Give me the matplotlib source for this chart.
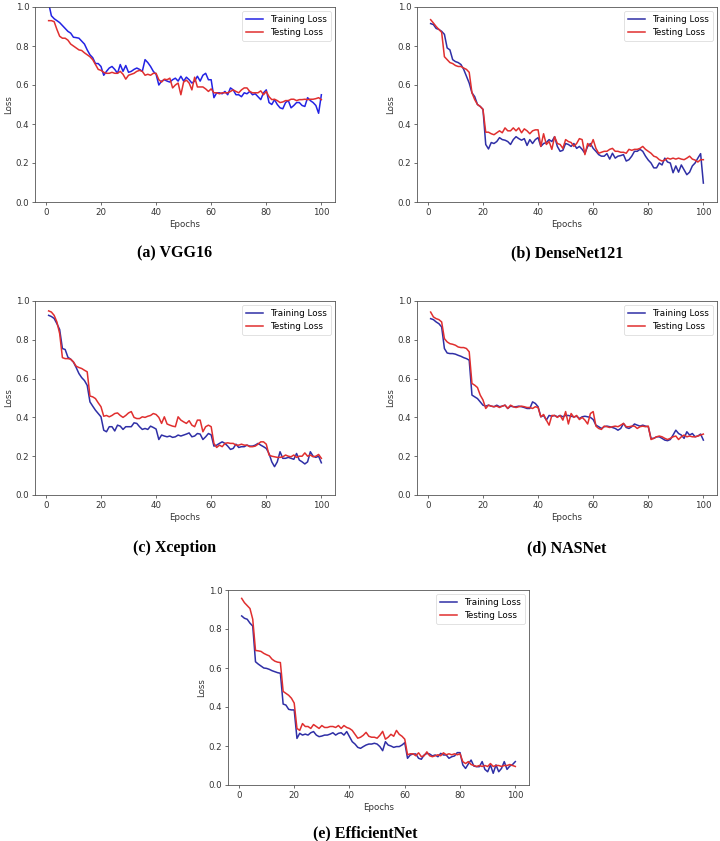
import numpy as np
import matplotlib
matplotlib.use("Agg")
import matplotlib.pyplot as plt

epochs = np.arange(1, 101)

vgg_train = [1.02, 0.955, 0.94, 0.93, 0.92, 0.905, 0.89, 0.875, 0.866, 0.845,
             0.843, 0.84, 0.825, 0.81, 0.78, 0.755, 0.74, 0.71, 0.71, 0.695,
             0.65, 0.67, 0.687, 0.695, 0.68, 0.66, 0.705, 0.67, 0.70, 0.665,
             0.67, 0.68, 0.687, 0.68, 0.67, 0.73, 0.715, 0.695, 0.67, 0.655,
             0.60, 0.62, 0.627, 0.62, 0.615, 0.627, 0.635, 0.62, 0.645, 0.62,
             0.64, 0.627, 0.61, 0.62, 0.645, 0.62, 0.65, 0.66, 0.627, 0.627,
             0.535, 0.56, 0.56, 0.555, 0.567, 0.55, 0.585, 0.575, 0.55, 0.55,
             0.54, 0.56, 0.555, 0.567, 0.55, 0.555, 0.54, 0.525, 0.56, 0.575,
             0.51, 0.50, 0.525, 0.50, 0.483, 0.478, 0.51, 0.52, 0.483, 0.495,
             0.51, 0.51, 0.495, 0.49, 0.535, 0.52, 0.51, 0.495, 0.455, 0.55]
vgg_test = [0.93, 0.93, 0.925, 0.885, 0.85, 0.84, 0.84, 0.83, 0.81, 0.80,
            0.79, 0.78, 0.777, 0.765, 0.755, 0.745, 0.73, 0.705, 0.68, 0.675,
            0.665, 0.66, 0.66, 0.665, 0.66, 0.66, 0.67, 0.655, 0.63, 0.65,
            0.655, 0.66, 0.67, 0.675, 0.67, 0.65, 0.655, 0.65, 0.66, 0.66,
            0.627, 0.615, 0.63, 0.627, 0.635, 0.585, 0.60, 0.61, 0.55, 0.615,
            0.625, 0.61, 0.575, 0.64, 0.59, 0.59, 0.59, 0.58, 0.567, 0.58,
            0.56, 0.56, 0.555, 0.56, 0.56, 0.56, 0.567, 0.575, 0.567, 0.56,
            0.575, 0.585, 0.585, 0.567, 0.56, 0.56, 0.56, 0.57, 0.55, 0.567,
            0.54, 0.525, 0.527, 0.52, 0.51, 0.513, 0.52, 0.52, 0.527, 0.527,
            0.52, 0.525, 0.525, 0.527, 0.525, 0.527, 0.527, 0.53, 0.535, 0.525]

dense_train = [0.915, 0.91, 0.89, 0.885, 0.875, 0.86, 0.79, 0.78, 0.73, 0.72,
               0.715, 0.705, 0.68, 0.645, 0.61, 0.56, 0.54, 0.50, 0.49, 0.475,
               0.295, 0.272, 0.305, 0.30, 0.31, 0.33, 0.32, 0.317, 0.31, 0.295,
               0.32, 0.335, 0.325, 0.317, 0.325, 0.29, 0.32, 0.30, 0.32, 0.33,
               0.285, 0.30, 0.305, 0.32, 0.31, 0.335, 0.285, 0.26, 0.265, 0.30,
               0.295, 0.285, 0.30, 0.275, 0.285, 0.27, 0.25, 0.285, 0.30, 0.275,
               0.26, 0.243, 0.235, 0.235, 0.248, 0.22, 0.25, 0.225, 0.235, 0.238,
               0.243, 0.21, 0.217, 0.235, 0.26, 0.26, 0.27, 0.26, 0.235, 0.215,
               0.20, 0.175, 0.175, 0.20, 0.19, 0.225, 0.205, 0.20, 0.15, 0.185,
               0.153, 0.19, 0.165, 0.14, 0.153, 0.185, 0.20, 0.225, 0.248, 0.097]
dense_test = [0.935, 0.918, 0.90, 0.885, 0.87, 0.745, 0.73, 0.715, 0.71, 0.70,
              0.695, 0.695, 0.687, 0.68, 0.665, 0.56, 0.525, 0.50, 0.49, 0.475,
              0.358, 0.358, 0.35, 0.345, 0.355, 0.365, 0.355, 0.38, 0.365, 0.365,
              0.38, 0.365, 0.38, 0.355, 0.375, 0.365, 0.35, 0.365, 0.37, 0.37,
              0.285, 0.35, 0.295, 0.31, 0.27, 0.335, 0.30, 0.295, 0.275, 0.32,
              0.31, 0.305, 0.285, 0.30, 0.325, 0.32, 0.243, 0.30, 0.285, 0.32,
              0.275, 0.25, 0.255, 0.26, 0.26, 0.27, 0.275, 0.26, 0.26, 0.255,
              0.255, 0.25, 0.27, 0.265, 0.27, 0.27, 0.275, 0.285, 0.27, 0.26,
              0.25, 0.235, 0.23, 0.217, 0.21, 0.215, 0.225, 0.22, 0.225, 0.22,
              0.225, 0.22, 0.217, 0.225, 0.235, 0.22, 0.215, 0.205, 0.217, 0.217]

xcep_train = [0.926, 0.92, 0.91, 0.883, 0.853, 0.755, 0.75, 0.71, 0.70, 0.685,
              0.657, 0.626, 0.605, 0.59, 0.565, 0.48, 0.458, 0.437, 0.42, 0.403,
              0.334, 0.326, 0.352, 0.352, 0.33, 0.36, 0.355, 0.338, 0.352, 0.352,
              0.352, 0.372, 0.369, 0.352, 0.338, 0.343, 0.338, 0.355, 0.348, 0.34,
              0.286, 0.309, 0.304, 0.30, 0.304, 0.297, 0.30, 0.309, 0.304, 0.309,
              0.314, 0.32, 0.30, 0.304, 0.317, 0.314, 0.286, 0.30, 0.317, 0.31,
              0.252, 0.257, 0.266, 0.274, 0.266, 0.252, 0.235, 0.24, 0.262, 0.245,
              0.249, 0.249, 0.257, 0.252, 0.252, 0.257, 0.266, 0.257, 0.249, 0.24,
              0.214, 0.171, 0.146, 0.171, 0.223, 0.189, 0.189, 0.194, 0.189, 0.184,
              0.214, 0.18, 0.171, 0.16, 0.171, 0.223, 0.2, 0.194, 0.2, 0.166]
xcep_test = [0.949, 0.943, 0.926, 0.892, 0.832, 0.708, 0.703, 0.703, 0.70, 0.686,
             0.664, 0.657, 0.652, 0.643, 0.635, 0.51, 0.506, 0.497, 0.475, 0.455,
             0.406, 0.41, 0.403, 0.41, 0.42, 0.423, 0.41, 0.40, 0.41, 0.423,
             0.43, 0.40, 0.394, 0.394, 0.403, 0.40, 0.406, 0.41, 0.42, 0.415,
             0.40, 0.369, 0.403, 0.366, 0.36, 0.355, 0.352, 0.403, 0.386, 0.377,
             0.369, 0.383, 0.36, 0.352, 0.386, 0.386, 0.326, 0.352, 0.36, 0.352,
             0.266, 0.245, 0.257, 0.249, 0.266, 0.269, 0.266, 0.266, 0.257, 0.257,
             0.262, 0.257, 0.257, 0.249, 0.249, 0.252, 0.262, 0.274, 0.274, 0.262,
             0.206, 0.2, 0.197, 0.194, 0.194, 0.197, 0.206, 0.2, 0.197, 0.206,
             0.194, 0.2, 0.2, 0.217, 0.2, 0.206, 0.197, 0.2, 0.209, 0.189]

nas_train = [0.909, 0.904, 0.892, 0.883, 0.866, 0.755, 0.732, 0.729, 0.729, 0.726,
             0.72, 0.715, 0.708, 0.703, 0.695, 0.515, 0.506, 0.497, 0.48, 0.463,
             0.458, 0.463, 0.458, 0.455, 0.463, 0.455, 0.458, 0.463, 0.446, 0.458,
             0.455, 0.455, 0.458, 0.455, 0.451, 0.446, 0.446, 0.48, 0.472, 0.455,
             0.403, 0.41, 0.386, 0.41, 0.406, 0.41, 0.403, 0.41, 0.403, 0.41,
             0.41, 0.406, 0.403, 0.406, 0.394, 0.403, 0.406, 0.403, 0.40, 0.389,
             0.36, 0.352, 0.343, 0.352, 0.355, 0.352, 0.348, 0.343, 0.334, 0.343,
             0.369, 0.348, 0.343, 0.352, 0.366, 0.36, 0.355, 0.36, 0.355, 0.352,
             0.292, 0.292, 0.30, 0.30, 0.292, 0.283, 0.28, 0.286, 0.309, 0.334,
             0.317, 0.309, 0.292, 0.326, 0.309, 0.317, 0.30, 0.304, 0.314, 0.283]
nas_test = [0.943, 0.918, 0.909, 0.904, 0.892, 0.806, 0.789, 0.78, 0.777, 0.772,
            0.763, 0.76, 0.76, 0.755, 0.738, 0.575, 0.566, 0.554, 0.515, 0.49,
            0.446, 0.463, 0.458, 0.455, 0.458, 0.451, 0.458, 0.463, 0.446, 0.463,
            0.455, 0.451, 0.455, 0.458, 0.455, 0.451, 0.451, 0.446, 0.455, 0.451,
            0.403, 0.415, 0.386, 0.36, 0.41, 0.41, 0.40, 0.41, 0.386, 0.43,
            0.366, 0.42, 0.40, 0.41, 0.389, 0.40, 0.386, 0.366, 0.42, 0.43,
            0.355, 0.343, 0.338, 0.355, 0.352, 0.348, 0.352, 0.355, 0.352, 0.36,
            0.369, 0.352, 0.352, 0.355, 0.355, 0.343, 0.352, 0.355, 0.352, 0.355,
            0.286, 0.292, 0.30, 0.304, 0.30, 0.292, 0.286, 0.292, 0.30, 0.304,
            0.286, 0.30, 0.309, 0.30, 0.304, 0.30, 0.30, 0.304, 0.309, 0.314]

eff_train = [0.867, 0.855, 0.85, 0.83, 0.815, 0.632, 0.62, 0.61, 0.60, 0.598,
             0.593, 0.586, 0.581, 0.576, 0.573, 0.415, 0.41, 0.388, 0.385, 0.385,
             0.239, 0.265, 0.256, 0.261, 0.256, 0.268, 0.274, 0.256, 0.248, 0.251,
             0.256, 0.256, 0.261, 0.268, 0.256, 0.265, 0.268, 0.256, 0.274, 0.248,
             0.222, 0.21, 0.193, 0.188, 0.197, 0.205, 0.21, 0.21, 0.214, 0.21,
             0.197, 0.176, 0.222, 0.205, 0.2, 0.193, 0.197, 0.197, 0.205, 0.217,
             0.137, 0.154, 0.159, 0.159, 0.137, 0.132, 0.154, 0.162, 0.159, 0.149,
             0.154, 0.145, 0.162, 0.154, 0.154, 0.137, 0.145, 0.149, 0.166, 0.166,
             0.103, 0.085, 0.108, 0.128, 0.097, 0.094, 0.094, 0.12, 0.08, 0.068,
             0.103, 0.06, 0.103, 0.068, 0.085, 0.12, 0.08, 0.097, 0.105, 0.12]
eff_test = [0.957, 0.935, 0.92, 0.905, 0.85, 0.69, 0.688, 0.685, 0.675, 0.668,
            0.662, 0.645, 0.635, 0.63, 0.628, 0.48, 0.47, 0.46, 0.445, 0.42,
            0.29, 0.28, 0.315, 0.30, 0.30, 0.29, 0.31, 0.30, 0.29, 0.305,
            0.295, 0.295, 0.30, 0.30, 0.295, 0.305, 0.29, 0.305, 0.295, 0.29,
            0.28, 0.26, 0.24, 0.245, 0.255, 0.27, 0.25, 0.245, 0.245, 0.24,
            0.255, 0.275, 0.235, 0.245, 0.26, 0.25, 0.28, 0.26, 0.25, 0.235,
            0.155, 0.16, 0.16, 0.15, 0.165, 0.145, 0.15, 0.17, 0.15, 0.145,
            0.15, 0.155, 0.15, 0.165, 0.155, 0.16, 0.155, 0.16, 0.155, 0.16,
            0.12, 0.11, 0.12, 0.105, 0.1, 0.095, 0.1, 0.095, 0.1, 0.095,
            0.11, 0.095, 0.1, 0.1, 0.095, 0.1, 0.1, 0.105, 0.1, 0.095]

captions = ["(a) VGG16", "(b) DenseNet121", "(c) Xception", "(d) NASNet", "(e) EfficientNet"]
train_sets = [vgg_train, dense_train, xcep_train, nas_train, eff_train]
test_sets = [vgg_test, dense_test, xcep_test, nas_test, eff_test]

W, H = 720, 841
# axes boxes in pixels: left, top, right, bottom
boxes = [(35, 7, 335, 202), (417, 7, 717, 202),
         (35, 301, 335, 495), (417, 301, 717, 495),
         (228, 590, 529, 785)]
caption_pos = [(175, 253), (567, 253), (175, 548), (567, 548), (365, 833)]
train_colors = ['#2323e4', '#2f2fa6', '#2f2fa6', '#2f2fa6', '#2f2fa6']
test_color = '#e02f2f'

fig = plt.figure(figsize=(7.2, 8.41), dpi=100)

for i in range(5):
    l, t, r, b = boxes[i]
    ax = fig.add_axes([l / W, 1 - b / H, (r - l) / W, (b - t) / H])
    ax.plot(epochs, train_sets[i], color=train_colors[i], lw=1.1, label='Training Loss')
    ax.plot(epochs, test_sets[i], color=test_color, lw=1.1, label='Testing Loss')
    ax.set_ylim(0, 1.0)
    ax.set_xticks([0, 20, 40, 60, 80, 100])
    ax.set_yticks([0.0, 0.2, 0.4, 0.6, 0.8, 1.0])
    ax.tick_params(labelsize=6.2, length=2.2, width=0.5, pad=2, colors='#333333')
    for s in ax.spines.values():
        s.set_linewidth(0.6)
        s.set_color('#555555')
    ax.set_xlabel('Epochs', fontsize=6.2, labelpad=2, color='#333333')
    ax.set_ylabel('Loss', fontsize=6.2, labelpad=2, color='#333333')
    leg = ax.legend(loc='upper right', fontsize=6.3, frameon=True)
    leg.get_frame().set_linewidth(0.5)
    cx, cy = caption_pos[i]
    fig.text(cx / W, 1 - cy / H, captions[i], ha='center', va='center',
             fontsize=11.5, fontweight='bold', family='Liberation Serif')

fig.savefig('out.png', dpi=100)
